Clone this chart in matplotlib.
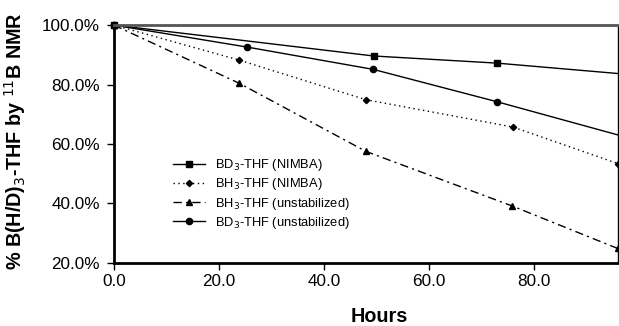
import matplotlib
matplotlib.use("Agg")
from matplotlib import pyplot as plt
import matplotlib.ticker as ticker

plt.rcParams['font.family'] = ['Liberation Sans', 'DejaVu Sans']

# hours / percent remaining
bd3_nimba_h = [0, 49.5, 73.0, 100.0]
bd3_nimba = [100.0, 89.6, 87.2, 83.1]
bh3_nimba_h = [0, 23.9, 48.0, 76.0, 96.0]
bh3_nimba = [100.0, 88.2, 74.9, 65.7, 53.4]
bh3_unstab_h = [0, 23.9, 48.0, 75.9, 96.0]
bh3_unstab = [100.0, 80.4, 57.5, 39.1, 24.8]
bd3_unstab_h = [0, 25.4, 49.4, 73.0, 100.0]
bd3_unstab = [100.0, 92.6, 85.1, 74.2, 61.1]

labels = ["BD$_3$-THF (NIMBA)", "BH$_3$-THF (NIMBA)",
          "BH$_3$-THF (unstabilized)", "BD$_3$-THF (unstabilized)"]

fig = plt.figure(figsize=(6.19, 3.26), dpi=100)
ax = fig.add_axes([0.184, 0.194, 0.814, 0.729])

series = [
    (bd3_nimba_h, bd3_nimba, '-', 's', 4.5),
    (bh3_nimba_h, bh3_nimba, (0, (1, 2.5)), 'D', 3.2),
    (bh3_unstab_h, bh3_unstab, (0, (6, 3, 1.5, 3)), '^', 4.5),
    (bd3_unstab_h, bd3_unstab, '-', 'o', 4.5),
]
for (h, v, ls, mk, ms), lab in zip(series, labels):
    ax.plot(h, v, color='black', ls=ls, lw=1.0, marker=mk, ms=ms, label=lab)
    # first point sits on the corner, keep it whole
    ax.plot(h[:1], v[:1], color='black', ls='none', marker=mk, ms=ms, clip_on=False)

ax.set_xlim(0, 96)
ax.set_ylim(20, 100)
ax.set_xticks([0, 20, 40, 60, 80])
ax.set_yticks([20, 40, 60, 80, 100])
ax.xaxis.set_major_formatter(ticker.FuncFormatter(lambda x, _: f"{x:.1f}"))
ax.yaxis.set_major_formatter(ticker.FuncFormatter(lambda y, _: f"{y:.1f}%"))
ax.tick_params(axis='both', labelsize=12.3, length=5, width=1, direction='out', color='black')
ax.tick_params(axis='y', pad=5)
ax.tick_params(axis='x', pad=3)

for s in ['left', 'bottom']:
    ax.spines[s].set_linewidth(2)
ax.spines['top'].set_color('#555555')
ax.spines['top'].set_linewidth(2)
ax.spines['right'].set_linewidth(1)

ax.set_xlabel("Hours", fontsize=14.2, fontweight='bold')
ax.set_ylabel("% B(H/D)$_3$-THF by $^{11}$B NMR", fontsize=14.2, fontweight='bold')
ax.xaxis.set_label_coords(0.526, -0.188)
ax.yaxis.set_label_coords(-0.171, 0.51)

ax.legend(loc='center left', bbox_to_anchor=(0.28, 0.405), bbox_transform=fig.transFigure,
          frameon=False, fontsize=9.3, handlelength=2.46, handletextpad=0.75,
          labelspacing=0.25, borderpad=0, borderaxespad=0)

fig.savefig("out.png", dpi=100)
